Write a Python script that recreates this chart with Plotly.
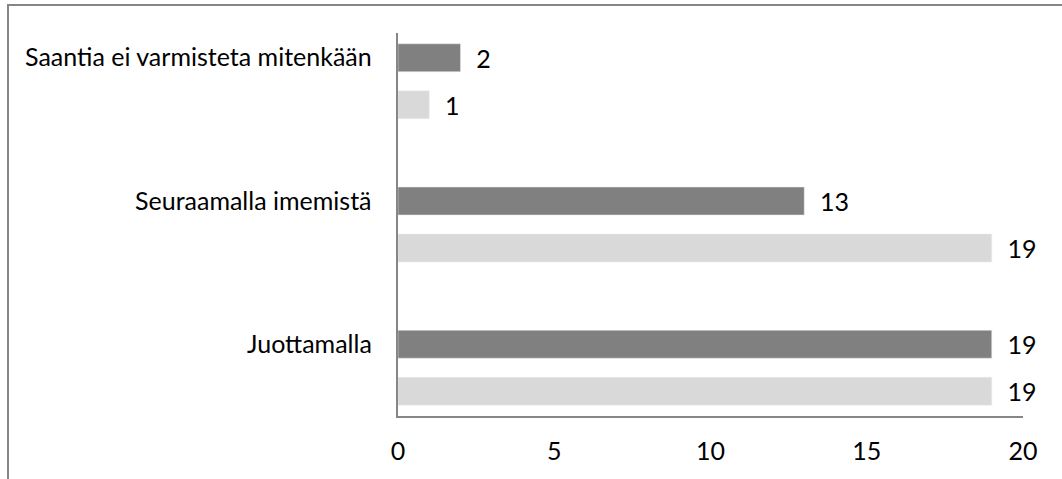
import plotly.graph_objects as go

# Categories listed bottom to top
categories = ["Juottamalla", "Seuraamalla imemistä", "Saantia ei varmisteta mitenkään"]
series_dark = [19, 13, 2]
series_light = [19, 19, 1]
x_ticks = [0, 5, 10, 15, 20]

W, H = 1062, 479
L, R, T, B = 398, 39, 33, 63
plot_w = W - L - R
plot_h = H - T - B

FONT = "Lato"
TXT = 25
AXIS_COL = "#868686"

fig = go.Figure()

common = dict(
    orientation="h",
    textposition="outside",
    texttemplate="  %{x}",
    cliponaxis=False,
    constraintext="none",
    textfont=dict(family=FONT, size=TXT, color="#000000"),
    showlegend=False,
    hoverinfo="skip",
)
# First trace sits lower within each group
fig.add_trace(go.Bar(y=categories, x=series_light, marker_color="#d9d9d9", **common))
fig.add_trace(go.Bar(y=categories, x=series_dark, marker_color="#808080", **common))

# Category labels aligned with the upper bar of each group
for cat in categories:
    fig.add_annotation(
        x=0, xref="paper", xanchor="right", xshift=-24,
        y=cat, yref="y", yshift=25,
        text=cat, showarrow=False,
        font=dict(family=FONT, size=TXT, color="#000000"),
    )

# Chart-area frame (left and top edges)
def px_x(p):
    return (p - L) / plot_w

def px_y(p):
    return (H - B - p) / plot_h

fig.add_shape(type="rect", xref="paper", yref="paper",
              x0=px_x(8), x1=px_x(W + 20), y0=px_y(H + 20), y1=px_y(5),
              line=dict(color=AXIS_COL, width=2), fillcolor="rgba(0,0,0,0)", layer="below")

fig.update_layout(
    width=W, height=H,
    margin=dict(l=L, r=R, t=T, b=B),
    paper_bgcolor="white", plot_bgcolor="white",
    barmode="group", bargap=0.344, bargroupgap=0.405,
    font=dict(family=FONT, size=TXT, color="#000000"),
    xaxis=dict(
        range=[0, 20], tickvals=x_ticks, showgrid=False, zeroline=False,
        showline=True, linecolor=AXIS_COL, linewidth=2,
        ticks="", ticklabelstandoff=12,
        tickfont=dict(family=FONT, size=TXT, color="#000000"),
    ),
    yaxis=dict(
        type="category", categoryorder="array", categoryarray=categories,
        range=[-0.337, 2.337], showgrid=False, zeroline=False,
        showline=True, linecolor=AXIS_COL, linewidth=2,
        showticklabels=False, ticks="",
    ),
)

fig.write_html("out.html")
